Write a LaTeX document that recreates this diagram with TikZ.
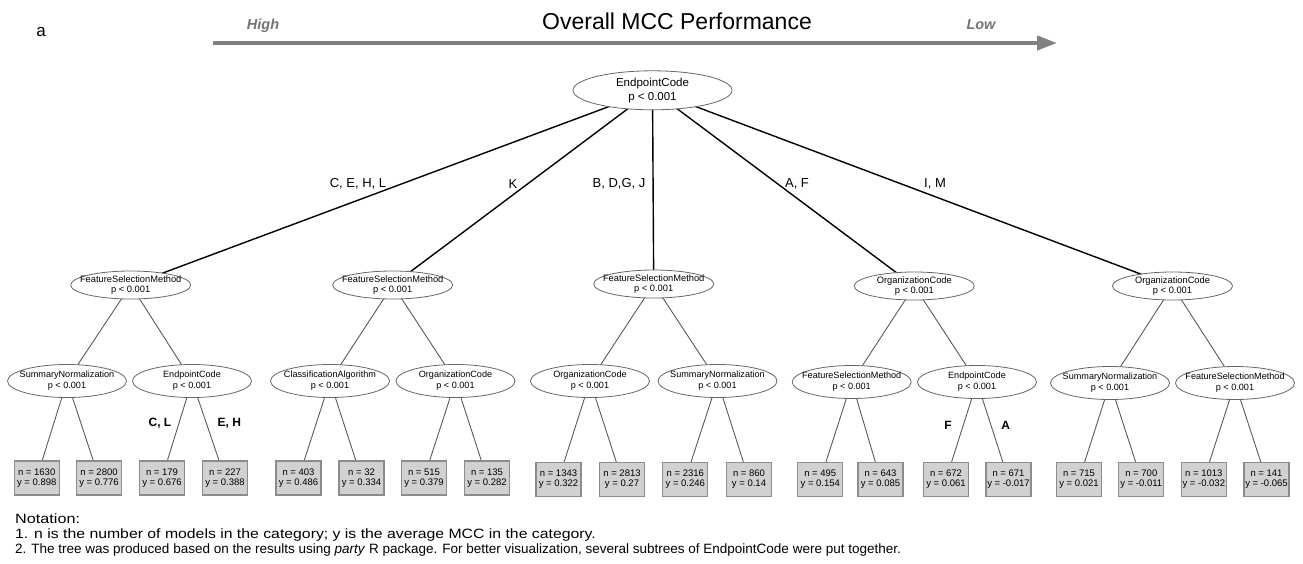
\documentclass[tikz,border=0pt]{standalone}
\usepackage{fontspec}
\setmainfont{Liberation Sans}
\usetikzlibrary{shapes.geometric,arrows.meta,backgrounds}
\tikzset{
  split/.style={ellipse, draw=black!60, fill=white, line width=0.8pt, inner sep=0pt},
  rootnode/.style={split, minimum width=159pt, minimum height=39pt},
  lvone/.style={split, minimum width=120pt, minimum height=28pt},
  lvtwo/.style={split, minimum width=119pt, minimum height=33pt},
  rtext/.style={label={[align=center, inner sep=0pt, font=\fontsize{11.5}{14}\selectfont]center:#1}},
  onetext/.style={label={[align=center, inner sep=0pt, font=\fontsize{9.3}{9.5}\selectfont]center:#1}},
  twotext/.style={label={[align=center, inner sep=0pt, font=\fontsize{9.1}{11}\selectfont]center:#1}},
  leaf/.style={rectangle, draw=black!45, fill=black!18, line width=1.2pt,
    minimum width=45pt, minimum height=34pt, inner sep=0pt, align=center,
    font=\fontsize{9.5}{10}\selectfont},
  toplink/.style={draw=black, line width=1.4pt},
  link/.style={draw=black!65, line width=0.9pt},
  splab/.style={inner sep=0pt, font=\fontsize{13}{13}\selectfont},
  brlab/.style={inner sep=0pt, font=\bfseries\fontsize{12}{12}\selectfont},
  notetext/.style={inner sep=0pt, anchor=base west, font=\fontsize{13.5}{15}\selectfont},
  hilo/.style={inner sep=0pt, anchor=base, text=black!55, font=\bfseries\itshape\fontsize{14.5}{15}\selectfont},
}
\begin{document}
\begin{tikzpicture}[x=1pt,y=-1pt]
\useasboundingbox (0,0) rectangle (1303,563);
% header
\node[inner sep=0pt, anchor=base, font=\fontsize{17}{17}\selectfont] (panel) at (41,36) {a};
\node[inner sep=0pt, anchor=base, font=\fontsize{23}{23}\selectfont] (title) at (677,29.5) {Overall MCC Performance};
\node[hilo] (high) at (263,29.5) {High};
\node[hilo] (low) at (981,29.5) {Low};
\coordinate (arrS) at (213,43);
\coordinate (arrE) at (1057,43);
\draw[draw=black!50, line width=4pt, -{Triangle[length=20pt,width=14pt]}] (arrS) -- (arrE);

% tree nodes
\node[rootnode, rtext={EndpointCode\\p < 0.001}] (root) at (652.5,90.3) {};

\node[lvone, onetext={FeatureSelectionMethod\\p < 0.001}] (n1) at (130.7,285) {};
\node[lvone, onetext={FeatureSelectionMethod\\p < 0.001}] (n2) at (392.7,285) {};
\node[lvone, onetext={FeatureSelectionMethod\\p < 0.001}] (n3) at (653.7,284) {};
\node[lvone, onetext={OrganizationCode\\p < 0.001}] (n4) at (914.3,286) {};
\node[lvone, onetext={OrganizationCode\\p < 0.001}] (n5) at (1172.5,286) {};

\node[lvtwo, twotext={SummaryNormalization\\p < 0.001}] (a1) at (67,381) {};
\node[lvtwo, twotext={EndpointCode\\p < 0.001}] (a2) at (192,381) {};
\node[lvtwo, twotext={ClassificationAlgorithm\\p < 0.001}] (b1) at (330,381) {};
\node[lvtwo, twotext={OrganizationCode\\p < 0.001}] (b2) at (455.5,381) {};
\node[lvtwo, twotext={OrganizationCode\\p < 0.001}] (c1) at (590,381) {};
\node[lvtwo, twotext={SummaryNormalization\\p < 0.001}] (c2) at (717.5,381) {};
\node[lvtwo, twotext={FeatureSelectionMethod\\p < 0.001}] (d1) at (851.7,382) {};
\node[lvtwo, twotext={EndpointCode\\p < 0.001}] (d2) at (977,382) {};
\node[lvtwo, twotext={SummaryNormalization\\p < 0.001}] (e1) at (1110,383) {};
\node[lvtwo, twotext={FeatureSelectionMethod\\p < 0.001}] (e2) at (1235,383) {};

\node[leaf] (L1) at (36.7,478) {n = 1630\\y = 0.898};
\node[leaf] (L2) at (99,478) {n = 2800\\y = 0.776};
\node[leaf] (L3) at (162,478) {n = 179\\y = 0.676};
\node[leaf] (L4) at (225,478) {n = 227\\y = 0.388};
\node[leaf] (L5) at (298.5,478) {n = 403\\y = 0.486};
\node[leaf] (L6) at (361.5,478) {n = 32\\y = 0.334};
\node[leaf] (L7) at (424,478) {n = 515\\y = 0.379};
\node[leaf] (L8) at (487,478) {n = 135\\y = 0.282};
\node[leaf] (L9) at (558.5,479.5) {n = 1343\\y = 0.322};
\node[leaf] (L10) at (622,479.5) {n = 2813\\y = 0.27};
\node[leaf] (L11) at (685.3,479.5) {n = 2316\\y = 0.246};
\node[leaf] (L12) at (749,479.5) {n = 860\\y = 0.14};
\node[leaf] (L13) at (820.3,479.5) {n = 495\\y = 0.154};
\node[leaf] (L14) at (880.5,479.5) {n = 643\\y = 0.085};
\node[leaf] (L15) at (946,479.5) {n = 672\\y = 0.061};
\node[leaf] (L16) at (1008.5,479.5) {n = 671\\y = -0.017};
\node[leaf] (L17) at (1079,479.5) {n = 715\\y = 0.021};
\node[leaf] (L18) at (1141.3,479.5) {n = 700\\y = -0.011};
\node[leaf] (L19) at (1203.8,479.5) {n = 1013\\y = -0.032};
\node[leaf] (L20) at (1266.5,479.5) {n = 141\\y = -0.065};

% edges
\begin{scope}[on background layer]
\foreach \c in {n1,n2,n3,n4,n5} \draw[toplink] (root.center) -- (\c.center);
\foreach \p/\c in {n1/a1,n1/a2,n2/b1,n2/b2,n3/c1,n3/c2,n4/d1,n4/d2,n5/e1,n5/e2,
  a1/L1,a1/L2,a2/L3,a2/L4,b1/L5,b1/L6,b2/L7,b2/L8,c1/L9,c1/L10,c2/L11,c2/L12,
  d1/L13,d1/L14,d2/L15,d2/L16,e1/L17,e1/L18,e2/L19,e2/L20}
  \draw[link] (\p.center) -- (\c.center);
\end{scope}

% edge labels
\node[splab] (s1) at (358,184) {C, E, H, L};
\node[splab] (s2) at (513,184) {K};
\node[splab] (s3) at (619,184) {B, D,G, J};
\node[splab] (s4) at (797,184) {A, F};
\node[splab] (s5) at (935,184) {I, M};
\node[brlab] (t1) at (160,423) {C, L};
\node[brlab] (t2) at (229.3,423) {E, H};
\node[brlab] (t3) at (948,425) {F};
\node[brlab] (t4) at (1005.7,425) {A};

% notes
\node[notetext] (note0) at (15,523) {\addfontfeature{FakeStretch=1.2}Notation:};
\node[notetext] (note1) at (15,538) {\addfontfeature{FakeStretch=1.17}1. n is the number of models in the category; y is the average MCC in the category.};
\node[notetext] (note2) at (15,553) {2. The tree was produced based on the results using \textit{party} R package. For better visualization, several subtrees of EndpointCode were put together.};
\end{tikzpicture}
\end{document}
